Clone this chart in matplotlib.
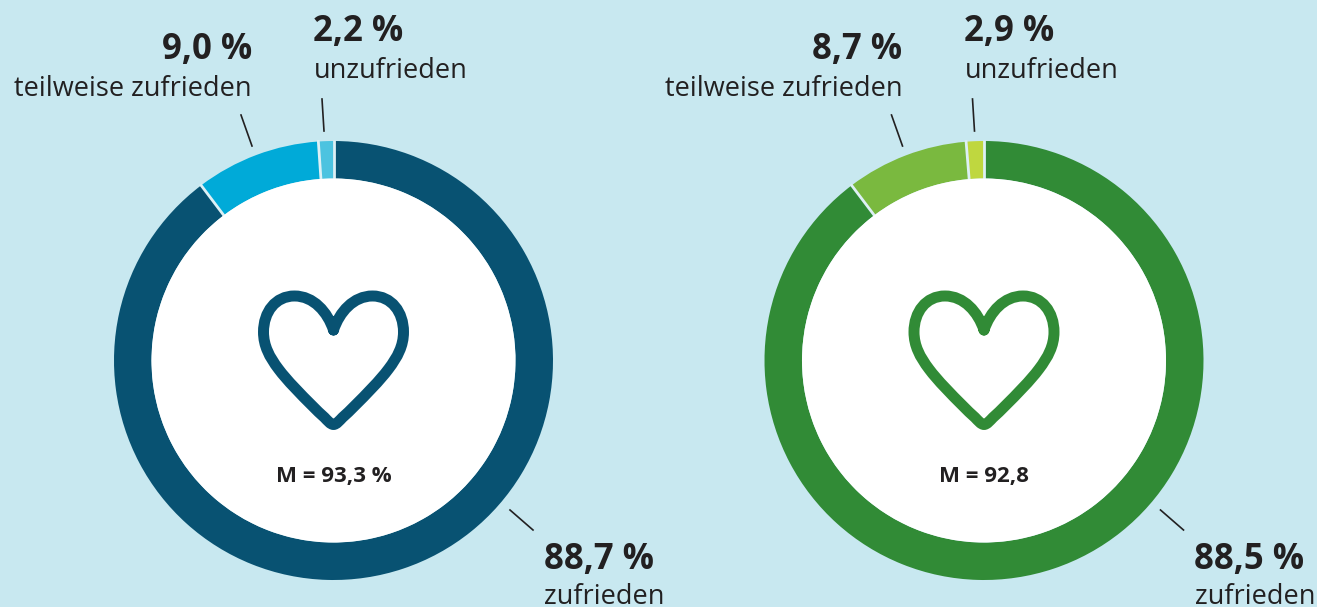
import math
import matplotlib
matplotlib.use("Agg")
import matplotlib.pyplot as plt
from matplotlib.patches import Wedge, Circle, PathPatch
from matplotlib.path import Path

arc_left = [89.7, 9.2, 1.1]
arc_right = [89.7, 9.0, 1.3]
# Printed values
labels_left = ["88,7 %", "9,0 %", "2,2 %"]
labels_right = ["88,5 %", "8,7 %", "2,9 %"]
categories = ["zufrieden", "teilweise zufrieden", "unzufrieden"]
means = ["M = 93,3 %", "M = 92,8"]
colors_left = ["#085272", "#00AAD8", "#4CC3E0"]
colors_right = ["#318B36", "#7AB93F", "#BFD73F"]

BG = "#C8E8F0"
DARK = "#222021"
FONT = "Open Sans"

fig = plt.figure(figsize=(13.17, 6.07), dpi=100, facecolor=BG)
ax = fig.add_axes([0, 0, 1, 1])
ax.set_xlim(0, 1317)
ax.set_ylim(607, 0)
ax.axis("off")


def heart(cx, color):
    half = [
        (0, 330),
        (-6, 312), (-20, 296), (-39, 296),
        (-58, 296), (-70, 312), (-70, 332),
        (-70, 346), (-64, 357), (-55, 369),
        (-46, 381), (-33, 394), (-21, 406),
        (-17, 410), (-13, 414), (-9, 417.5),
        (-6, 420.5), (-3, 424.5), (0, 424.5),
    ]
    left = [(cx + x, y) for x, y in half]
    right = [(cx - x, y) for x, y in reversed(half[:-1])]
    verts = left + right
    codes = [Path.MOVETO] + [Path.CURVE4] * (len(verts) - 1)
    ax.add_patch(PathPatch(Path(verts, codes), fc="white", ec=color, lw=7.9,
                           joinstyle="round", capstyle="round", zorder=4))


def sep(cx, cy, ang):
    t = math.radians(ang)
    return ([cx + 181 * math.cos(t), cx + 221 * math.cos(t)],
            [cy + 181 * math.sin(t), cy + 221 * math.sin(t)])


def donut(cx, cy, arcs, cols):
    # y axis is inverted, so angles increase clockwise from the +x axis
    start = -90.0
    total = sum(arcs)
    for a, c in zip(arcs, cols):
        sweep = a / total * 360
        ax.add_patch(Wedge((cx, cy), 219.5, start, start + sweep, width=37.5,
                           fc=c, ec="none", zorder=2))
        start += sweep
    start = -90.0
    for a in arcs:
        ax.plot(*sep(cx, cy, start), color="#DDF0F5", lw=2.0, zorder=3,
                solid_capstyle="butt")
        start += a / total * 360
    ax.add_patch(Circle((cx, cy), 182, fc="white", ec="none", zorder=3))


def txt(x, y, s, size, weight="normal", ha="left"):
    ax.text(x, y, s, fontsize=size, fontweight=weight, ha=ha, va="baseline",
            color=DARK, family=FONT, zorder=6)


def panel(dx, arcs, cols, labels, mean):
    cx = 333.5 + dx
    donut(cx, 360.5, arcs, cols)
    heart(cx, cols[0])
    txt(cx, 482, mean, 16, "bold", "center")
    for (x0, y0, x1, y1) in [(510 + dx, 510, 533 + dx, 530),
                             (241 + dx, 115, 252 + dx, 146),
                             (322 + dx, 99, 324 + dx, 131)]:
        ax.plot([x0, x1], [y0, y1], color=DARK, lw=1.2, zorder=5)
    txt(544 + dx, 569, labels[0], 25, "bold")
    txt(544 + dx, 604, categories[0], 19.5)
    txt(252 + dx, 59, labels[1], 25, "bold", "right")
    txt(252 + dx, 96, categories[1], 19.5, ha="right")
    txt(313 + dx, 41, labels[2], 25, "bold")
    txt(314 + dx, 78, categories[2], 19.5)


panel(0, arc_left, colors_left, labels_left, means[0])
panel(650.5, arc_right, colors_right, labels_right, means[1])

fig.savefig("out.png", dpi=100, facecolor=BG)
